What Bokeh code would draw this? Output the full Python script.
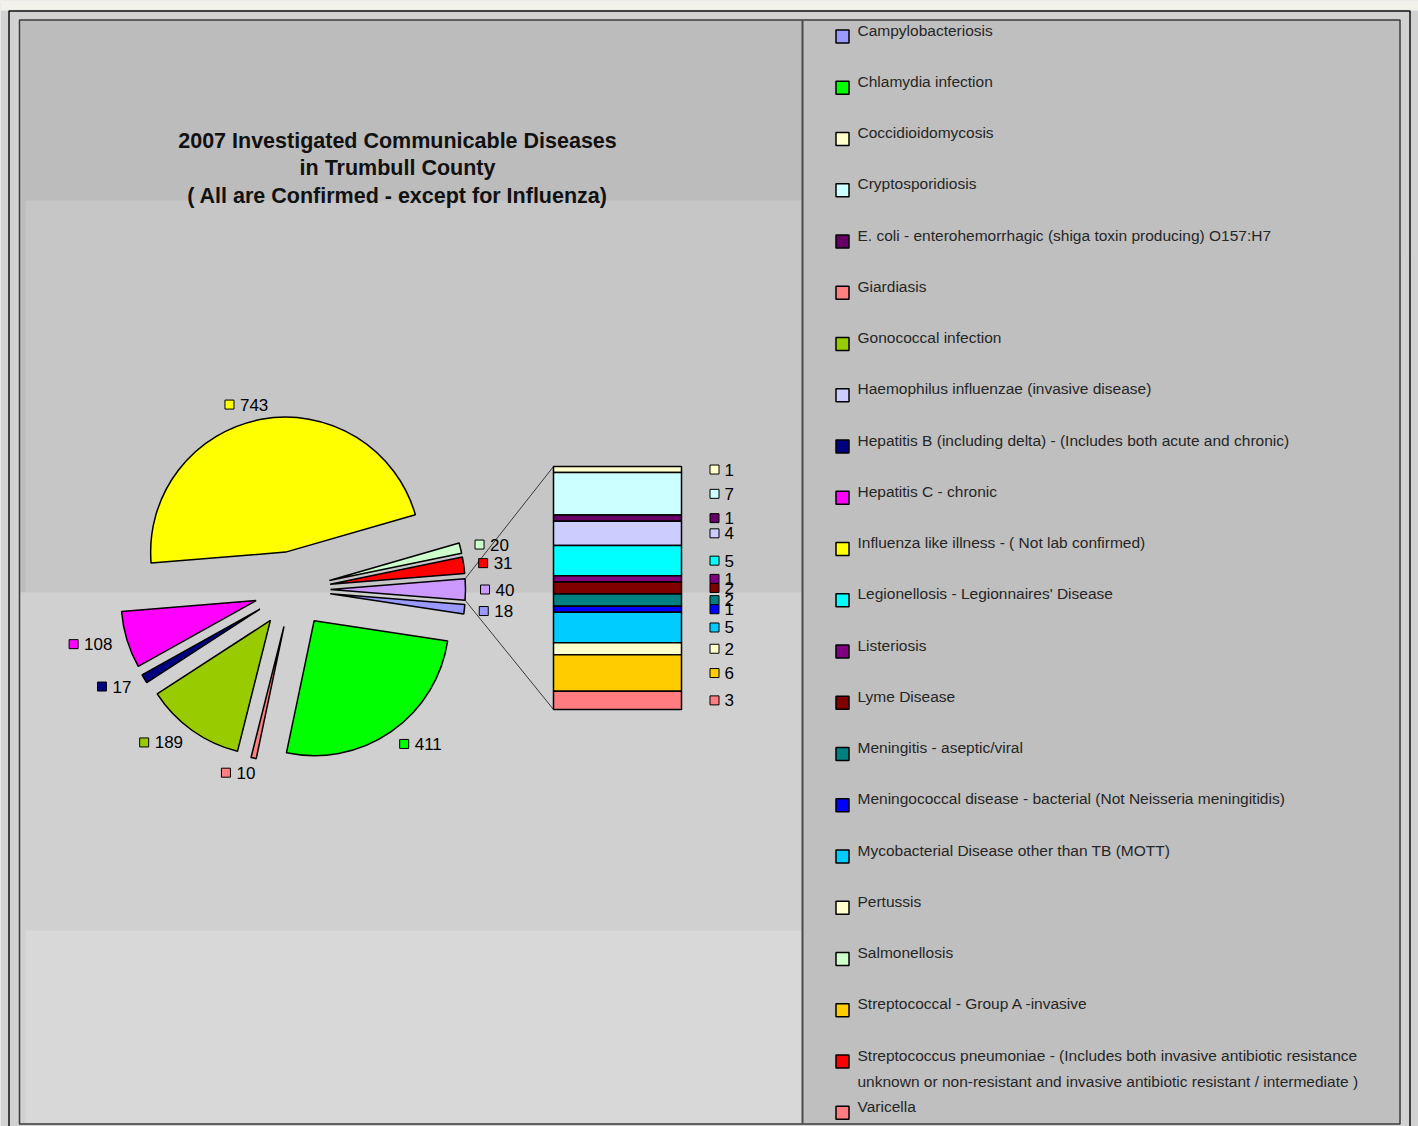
import math
from bokeh.plotting import figure
from bokeh.models import Range1d, ColumnDataSource
from bokeh.embed import file_html
from bokeh.resources import INLINE
from bokeh.core.properties import value

# ---------------- data ----------------
TITLE = "2007 Investigated Communicable Diseases\nin Trumbull County\n( All are Confirmed - except for Influenza)"

legend_names = [
    "Campylobacteriosis",
    "Chlamydia infection",
    "Coccidioidomycosis",
    "Cryptosporidiosis",
    "E. coli - enterohemorrhagic (shiga toxin producing) O157:H7",
    "Giardiasis",
    "Gonococcal infection",
    "Haemophilus influenzae (invasive disease)",
    "Hepatitis B (including delta) - (Includes both acute and chronic)",
    "Hepatitis C - chronic",
    "Influenza like illness  - ( Not lab confirmed)",
    "Legionellosis - Legionnaires' Disease",
    "Listeriosis",
    "Lyme Disease",
    "Meningitis - aseptic/viral",
    "Meningococcal disease - bacterial (Not Neisseria meningitidis)",
    "Mycobacterial Disease other than TB (MOTT)",
    "Pertussis",
    "Salmonellosis",
    "Streptococcal - Group A -invasive",
    "Streptococcus pneumoniae - (Includes both invasive antibiotic resistance\nunknown or non-resistant and invasive antibiotic resistant / intermediate )",
    "Varicella",
]
legend_colors = [
    "#9999FF", "#00FF00", "#FFFFCC", "#CCFFFF", "#660066", "#FF8080",
    "#99CC00", "#CCCCFF", "#000080", "#FF00FF", "#FFFF00", "#00FFFF",
    "#800080", "#800000", "#008080", "#0000FF", "#00CCFF", "#FFFFCC",
    "#CCFFCC", "#FFCC00", "#FF0000", "#FF7C80",
]

# pie slices (clockwise order, "Other" last)
pie_idx = [0, 1, 5, 6, 8, 9, 10, 18, 20]
pie_values = [18, 411, 10, 189, 17, 108, 743, 20, 31]
OTHER_COLOR = "#CC99FF"

# bar of "Other" (top to bottom)
bar_idx = [2, 3, 4, 7, 11, 12, 13, 14, 15, 16, 17, 19, 21]
bar_values = [1, 7, 1, 4, 5, 1, 2, 2, 1, 5, 2, 6, 3]

# ---------------- layout helpers (image pixel coords) ----------------
W, H = 1418, 1126
OFF = 0
def X(v): return v - OFF
def Y(v): return H + OFF - v

p = figure(width=W, height=H, x_range=Range1d(0, W), y_range=Range1d(0, H),
           output_backend="svg", toolbar_location=None, min_border=0,
           x_axis_location=None, y_axis_location=None)
p.grid.visible = False
p.outline_line_color = None
p.background_fill_color = "#d2d2d2"
p.border_fill_color = "#d2d2d2"

def box(l, t, r, b, fill=None, line=None, lw=1.0):
    p.quad(left=X(l), right=X(r), top=Y(t), bottom=Y(b),
           fill_color=fill, line_color=line, line_width=lw)

# background panels
box(0, 0, 1420, 9, fill="#f2f2ea")
box(0, 9, 1420, 10, fill="#fafafa")
box(20, 20, 802, 592, fill="#bcbcbc")
box(25, 200, 802, 592, fill="#c6c6c6")
box(20, 592, 802, 1123, fill="#d0d0d0")
box(25, 930, 802, 1123, fill="#d8d8d8")
box(802, 20, 1399, 1123, fill="#bfbfbf")
box(8.5, 10.5, 1409.5, 1140, fill=None, line="#111111", lw=1.5)
box(19, 19.5, 1399.5, 1123.5, fill=None, line="#3a3a3a", lw=1.5)
p.segment(x0=X(802), y0=Y(20), x1=X(802), y1=Y(1123), line_color="#4a4a4a", line_width=2)

FONT = value("Liberation Sans")

# title
p.text(x=[X(397)], y=[Y(128)], text=[TITLE], text_font=FONT, text_font_style="bold",
       text_font_size="21.5px", text_align="center", text_baseline="top",
       text_line_height=1.16, text_color="#111111")

# ---------------- pie ----------------
CX, CY = 292, 589
R = 135
EXPLODE = 38
RL = 150

other_val = sum(bar_values)
total = sum(pie_values) + other_val
half_other = other_val / total * math.pi

xs, ys, starts, ends, cols, vals = [], [], [], [], [], []
ang = -half_other
for idx, v in zip(pie_idx, pie_values):
    s = v / total * 2 * math.pi
    starts.append(ang - s); ends.append(ang)
    cols.append(legend_colors[idx]); vals.append(v)
    ang -= s
starts.append(-half_other); ends.append(half_other)
cols.append(OTHER_COLOR); vals.append(other_val)

lab_x, lab_y, lab_t, mk_x, mk_y, mk_c = [], [], [], [], [], []
for st, en, c, v in zip(starts, ends, cols, vals):
    mid = (st + en) / 2
    ax = X(CX) + EXPLODE * math.cos(mid)
    ay = Y(CY) + EXPLODE * math.sin(mid)
    xs.append(ax); ys.append(ay)
    lx = ax + RL * math.cos(mid)
    ly = ay + RL * math.sin(mid)
    w = 9 + 6 + len(str(v)) * 9.5
    cs = math.cos(mid)
    if cs > 0.35:
        left = lx
    elif cs < -0.35:
        left = lx - w
    else:
        left = lx - w * (1 - cs) / 2 - 8
    mk_x.append(left + 4.5); mk_y.append(ly); mk_c.append(c)
    lab_x.append(left + 15); lab_y.append(ly); lab_t.append(str(v))

# connector lines from the "Other" slice to the bar
BAR_L, BAR_R, BAR_T, BAR_H = 553, 681, 466, 243
o_ax, o_ay = xs[-1], ys[-1]
p.segment(x0=[o_ax + R * math.cos(half_other), o_ax + R * math.cos(-half_other)],
          y0=[o_ay + R * math.sin(half_other), o_ay + R * math.sin(-half_other)],
          x1=[X(BAR_L), X(BAR_L)], y1=[Y(BAR_T), Y(BAR_T + BAR_H)],
          line_color="#3a3a3a", line_width=1)

src = ColumnDataSource(dict(x=xs, y=ys, start=starts, end=ends, color=cols))
p.wedge(x="x", y="y", radius=R, start_angle="start", end_angle="end",
        fill_color="color", line_color="black", line_width=1.5, source=src)

# ---------------- bar of other ----------------
unit = BAR_H / other_val
tops, bots, bcols, bmid = [], [], [], []
cum = 0
for idx, v in zip(bar_idx, bar_values):
    t = BAR_T + cum * unit
    b = BAR_T + (cum + v) * unit
    tops.append(Y(t)); bots.append(Y(b)); bcols.append(legend_colors[idx])
    bmid.append(Y((t + b) / 2))
    cum += v
p.quad(left=X(BAR_L), right=X(BAR_R), top=tops, bottom=bots,
       fill_color=bcols, line_color="black", line_width=1.5)

for v, c, m in zip(bar_values, bcols, bmid):
    mk_x.append(X(714)); mk_y.append(m); mk_c.append(c)
    lab_x.append(X(724)); lab_y.append(m); lab_t.append(str(v))

# data labels
p.scatter(x=mk_x, y=mk_y, marker="square", size=9, fill_color=mk_c,
          line_color="black", line_width=1)
p.text(x=lab_x, y=lab_y, text=lab_t, text_font=FONT, text_font_size="17px",
       text_baseline="middle", text_align="left", text_color="black")

# ---------------- legend ----------------
LEG_Y0, LEG_DY = 36, 51.25
lg_y = [Y(LEG_Y0 + i * LEG_DY) for i in range(len(legend_names))]
p.scatter(x=[X(842)] * len(legend_names), y=lg_y, marker="square", size=13,
          fill_color=legend_colors, line_color="black", line_width=1.5)
p.text(x=[X(857)] * len(legend_names), y=[yy + 15 for yy in lg_y], text=legend_names,
       text_font=FONT, text_font_size="15.5px", text_baseline="top", text_align="left",
       text_line_height=1.58, text_color="#262626")

open("out.html", "w").write(file_html(p, INLINE))
